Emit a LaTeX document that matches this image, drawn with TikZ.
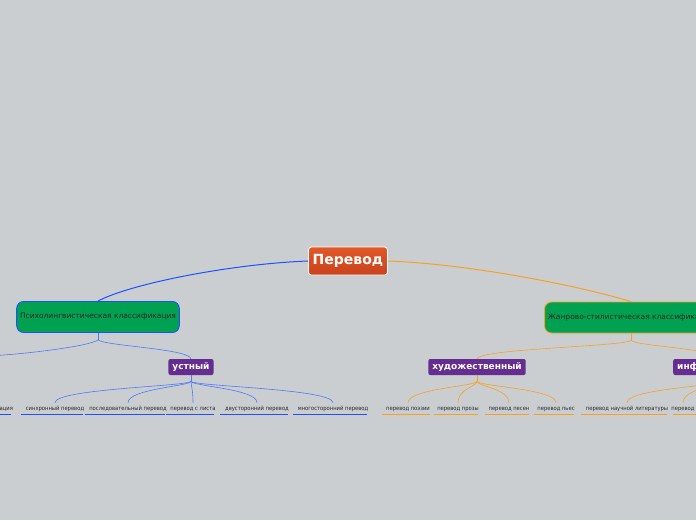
\documentclass[tikz,border=0pt]{standalone}
\usepackage{fontspec}
\setmainfont{DejaVu Sans}
\newfontfamily\leaffont{DejaVu Sans Condensed}
\usetikzlibrary{positioning}

\definecolor{bgcol}{RGB}{202,206,209}
\definecolor{rootred}{RGB}{200,66,28}
\definecolor{rootorange}{RGB}{226,88,40}
\definecolor{classgreen}{RGB}{0,161,80}
\definecolor{grouppurple}{RGB}{102,45,145}
\definecolor{linkblue}{RGB}{30,80,255}
\definecolor{sublinkblue}{RGB}{80,120,250}
\definecolor{linkorange}{RGB}{247,160,40}
\definecolor{leaftext}{RGB}{40,40,40}

\begin{document}
\begin{tikzpicture}[x=1pt,y=-1pt,
    root/.style={rectangle, rounded corners=3pt, draw=white, line width=0.8pt,
        top color=rootorange, bottom color=rootred, text=white,
        font=\fontsize{14}{16}\selectfont\bfseries, minimum width=79pt, minimum height=28pt},
    classbox/.style={rectangle, rounded corners=7pt, fill=classgreen, line width=0.9pt,
        text=black!85, font=\fontsize{7.5}{9}\selectfont, minimum height=31pt},
    group/.style={rectangle, rounded corners=2pt, fill=grouppurple, text=white,
        font=\fontsize{9}{11}\selectfont\bfseries, minimum height=16pt, inner xsep=4pt},
    leaf/.style={font=\leaffont\fontsize{5.8}{7}\selectfont, text=leaftext, text height=4.3pt,
        text depth=1.3pt, inner ysep=2.8pt, inner xsep=1.5pt},
    bluelink/.style={draw=linkblue, line width=1pt},
    orangelink/.style={draw=linkorange, line width=1pt},
    bluesub/.style={draw=sublinkblue, line width=0.6pt},
    orangesub/.style={draw=linkorange, line width=0.6pt},
    blueline/.style={draw=linkblue, line width=1.5pt},
    orangeline/.style={draw=linkorange, line width=1.5pt}
]
\useasboundingbox (0,0) rectangle (696,520);
\fill[bgcol] (0,0) rectangle (696,520);
\clip (0,0) rectangle (696,520);

% central topic
\node[root] (perevod) at (348,261) {Перевод};

% two classifications
\node[classbox, draw=linkblue, minimum width=161pt] (psych) at (98,317) {Психолингвистическая классификация};
\node[classbox, draw=linkorange, minimum width=170pt] (zhanr) at (631,317.5) {Жанрово-стилистическая классификация};

\draw[bluelink] (perevod.west) .. controls (230,264) and (130,284) .. (psych.north);
\draw[orangelink] (perevod.east) .. controls (470,264) and (580,286) .. (zhanr.north);

% groups
\node[group] (ustny) at (191,367) {устный};
\node[group] (hudozh) at (477,367) {художественный};
\node[group, anchor=west] (inform) at (673,367) {информативный};

\coordinate (psych-other) at (-12,356);
\draw[bluesub] (psych.south) -- ++(0,7) coordinate (psych-fork);
\draw[bluesub] (psych-fork) .. controls +(-8,6) and +(40,-2) .. (psych-other);
\draw[bluesub] (psych-fork) .. controls +(8,6) and +(-2,-10) .. (ustny.north);

\draw[orangesub] (zhanr.south) -- ++(0,7) coordinate (zhanr-fork);
\draw[orangesub] (zhanr-fork) .. controls +(-8,6) and +(2,-10) .. (hudozh.north);
\draw[orangesub] (zhanr-fork) .. controls +(8,6) and +(-2,-10) .. (inform.north);

% leaves of the left branch
\node[leaf, anchor=west] (lokal) at (-2,408.5) {ация};
\draw[blueline] (lokal.south west) -- ([xshift=-4pt]lokal.south east);

\draw[bluesub] (ustny.south) -- ++(0,6) coordinate (ustny-fork);
\foreach \n/\x/\t in {sinhr/55/синхронный перевод, posl/128/последовательный перевод,
        list/193/перевод с листа, dvust/257/двусторонний перевод, mnogo/333/многосторонний перевод}{
    \node[leaf] (\n) at (\x,408.5) {\t};
    \draw[blueline] ([xshift=-3pt]\n.south west) -- ([xshift=-3pt]\n.south east);
    \draw[bluesub] (ustny-fork) .. controls +(0,5) and +(0,-14) .. (\n.north);
}

% leaves of the right branch
\draw[orangesub] (hudozh.south) -- ++(0,6) coordinate (hudozh-fork);
\foreach \n/\x/\t in {poez/408/перевод поэзии, proza/458/перевод прозы,
        pesni/509/перевод песен, pesy/556/перевод пьес}{
    \node[leaf] (\n) at (\x,408.5) {\t};
    \draw[orangeline] ([xshift=-2pt]\n.south west) -- ([xshift=-2pt]\n.south east);
    \draw[orangesub] (hudozh-fork) .. controls +(0,5) and +(0,-14) .. (\n.north);
}

\draw[orangesub] (inform.south) -- ++(0,6) coordinate (inform-fork);
\node[leaf] (nauch) at (627,408.5) {перевод научной литературы};
\node[leaf, anchor=west] (dalee) at (nauch.east) {перевод};
\draw[orangeline] ([xshift=-3pt]nauch.south west) -- ([xshift=-3pt]nauch.south east);
\draw[orangeline] ([xshift=3pt]dalee.south west) -- ([xshift=3pt]dalee.south east);
\draw[orangesub] (inform-fork) .. controls +(0,5) and +(0,-14) .. (nauch.north);
\draw[orangesub] (inform-fork) .. controls +(0,5) and +(0,-14) .. (dalee.north);
\end{tikzpicture}
\end{document}
